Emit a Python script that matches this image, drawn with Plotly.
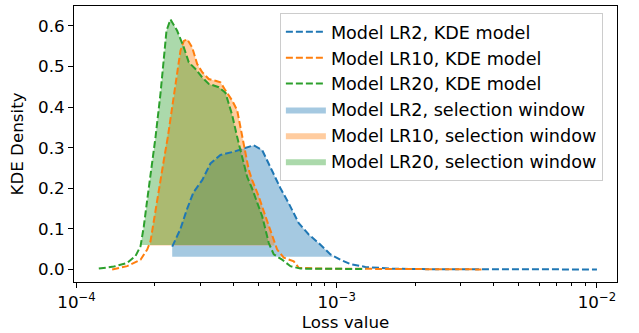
import numpy as np
import plotly.graph_objects as go

# ---------------- data ----------------
model_names = ["Model LR2", "Model LR10", "Model LR20"]

lr2_loss = [2.332e-4, 2.509e-4, 2.663e-4, 2.815e-4, 3.041e-4, 3.272e-4, 3.574e-4,
            4.021e-4, 4.393e-4, 4.799e-4, 5.170e-4, 5.481e-4, 5.814e-4, 6.077e-4,
            6.539e-4, 7.145e-4, 7.805e-4, 8.660e-4, 9.459e-4, 1.033e-3, 1.129e-3,
            1.289e-3, 1.608e-3, 2.291e-3, 1.0e-2]
lr2_kde = [0.056, 0.100, 0.150, 0.190, 0.220, 0.261, 0.282,
           0.290, 0.298, 0.306, 0.294, 0.261, 0.228, 0.200,
           0.163, 0.114, 0.086, 0.061, 0.037, 0.024, 0.013,
           0.006, 0.002, 0.0005, 0.0]

lr10_loss = [1.371e-4, 1.566e-4, 1.762e-4, 1.869e-4, 1.924e-4, 1.982e-4, 2.042e-4,
             2.102e-4, 2.165e-4, 2.243e-4, 2.332e-4, 2.437e-4, 2.509e-4, 2.584e-4,
             2.663e-4, 2.783e-4, 2.909e-4, 3.041e-4, 3.223e-4, 3.420e-4, 3.574e-4,
             3.736e-4, 3.965e-4, 4.144e-4, 4.266e-4, 4.393e-4, 4.592e-4, 4.732e-4,
             5.015e-4, 5.321e-4, 5.647e-4, 5.902e-4, 6.257e-4, 6.837e-4, 7.145e-4,
             8.660e-4, 1.757e-3, 3.6e-3]
lr10_kde = [0.000, 0.008, 0.024, 0.049, 0.069, 0.122, 0.171,
            0.220, 0.269, 0.326, 0.400, 0.473, 0.539, 0.563,
            0.567, 0.547, 0.506, 0.486, 0.469, 0.465, 0.461,
            0.441, 0.416, 0.392, 0.351, 0.302, 0.245, 0.220,
            0.180, 0.131, 0.082, 0.049, 0.029, 0.020, 0.004,
            0.002, 0.001, 0.0]

lr20_loss = [1.218e-4, 1.391e-4, 1.566e-4, 1.685e-4, 1.762e-4, 1.814e-4, 1.869e-4,
             1.924e-4, 1.964e-4, 2.012e-4, 2.102e-4, 2.165e-4, 2.217e-4, 2.297e-4,
             2.437e-4, 2.584e-4, 2.701e-4, 2.865e-4, 3.041e-4, 3.223e-4, 3.522e-4,
             3.736e-4, 3.965e-4, 4.144e-4, 4.331e-4, 4.527e-4, 4.723e-4, 5.170e-4,
             5.481e-4, 5.728e-4, 6.168e-4, 6.637e-4, 7.252e-4, 9.459e-4, 1.289e-3]
lr20_kde = [0.002, 0.007, 0.016, 0.033, 0.057, 0.106, 0.171,
            0.228, 0.269, 0.326, 0.433, 0.530, 0.588, 0.616,
            0.588, 0.547, 0.510, 0.494, 0.473, 0.457, 0.449,
            0.435, 0.380, 0.326, 0.277, 0.228, 0.200, 0.131,
            0.065, 0.037, 0.024, 0.008, 0.002, 0.002, 0.001]

# selection windows: [low loss, high loss, density level]
window_lo = [2.332e-4, 1.912e-4, 1.762e-4]
window_hi = [9.63e-4, 5.76e-4, 5.54e-4]
window_level = [0.031, 0.059, 0.060]

x_tick_vals = [1e-4, 1e-3, 1e-2]
x_tick_text = ["10<sup>−4</sup>", "10<sup>−3</sup>", "10<sup>−2</sup>"]
y_tick_vals = [0.0, 0.1, 0.2, 0.3, 0.4, 0.5, 0.6]

# ---------------- styling ----------------
line_colors = ["#1f77b4", "#ff7f0e", "#2ca02c"]
fill_colors = ["rgba(31,119,180,0.4)", "rgba(255,127,14,0.4)", "rgba(44,160,44,0.4)"]
FONT = "DejaVu Sans"
FS = 16.7

curves = [(lr2_loss, lr2_kde), (lr10_loss, lr10_kde), (lr20_loss, lr20_kde)]


def window_polygon(xs, ys, lo, hi, level):
    xs = np.asarray(xs, float)
    ys = np.asarray(ys, float)
    lx = np.log10(xs)
    ylo = float(np.interp(np.log10(lo), lx, ys))
    yhi = float(np.interp(np.log10(hi), lx, ys))
    m = (xs > lo) & (xs < hi)
    px = [lo, lo] + list(xs[m]) + [hi, hi, lo]
    py = [level, ylo] + list(ys[m]) + [yhi, level, level]
    return px, py


fig = go.Figure()

# fills (drawn first, listed after lines in legend)
for i, (xs, ys) in enumerate(curves):
    px, py = window_polygon(xs, ys, window_lo[i], window_hi[i], window_level[i])
    fig.add_trace(go.Scatter(
        x=px, y=py, mode="lines", fill="toself", fillcolor=fill_colors[i],
        line=dict(width=0, color=fill_colors[i]),
        name=f"{model_names[i]}, selection window", legendrank=4 + i,
        hoverinfo="skip"))

# KDE lines
for i, (xs, ys) in enumerate(curves):
    fig.add_trace(go.Scatter(
        x=xs, y=ys, mode="lines",
        line=dict(color=line_colors[i], width=2, dash="7px,3px"),
        name=f"{model_names[i]}, KDE model", legendrank=1 + i))

fig.update_layout(
    width=639, height=333,
    margin=dict(l=74, r=22, t=5, b=50),
    paper_bgcolor="white", plot_bgcolor="white",
    font=dict(family=FONT, size=FS, color="black"),
    showlegend=True,
    legend=dict(
        x=0.974, y=0.975, xanchor="right", yanchor="top",
        bgcolor="rgba(255,255,255,0.8)", bordercolor="#cccccc", borderwidth=1,
        font=dict(family=FONT, size=17.6, color="black"),
        traceorder="normal", itemwidth=40,
    ),
)

fig.update_xaxes(
    type="log", range=[np.log10(9.78e-5), np.log10(1.194e-2)],
    tickmode="array", tickvals=x_tick_vals, ticktext=x_tick_text,
    ticks="outside", ticklen=5, tickwidth=1, tickcolor="black",
    showline=True, linecolor="black", linewidth=1, mirror=True,
    showgrid=False, zeroline=False,
    minor=dict(ticks="outside", ticklen=3, tickwidth=1, tickcolor="black",
               tickmode="array",
               tickvals=[m * d for d in (1e-4, 1e-3) for m in range(2, 10)],
               showgrid=False),
    title=dict(text="Loss value", font=dict(family=FONT, size=FS), standoff=4),
)
fig.update_yaxes(
    range=[-0.031, 0.649],
    tickmode="array", tickvals=y_tick_vals, tickformat=".1f",
    ticks="outside", ticklen=5, tickwidth=1, tickcolor="black",
    showline=True, linecolor="black", linewidth=1, mirror=True,
    showgrid=False, zeroline=False,
    title=dict(text="KDE Density", font=dict(family=FONT, size=FS), standoff=10),
)

fig.write_html("out.html", config={"displayModeBar": False},
               post_script="document.body.style.margin='0';")
